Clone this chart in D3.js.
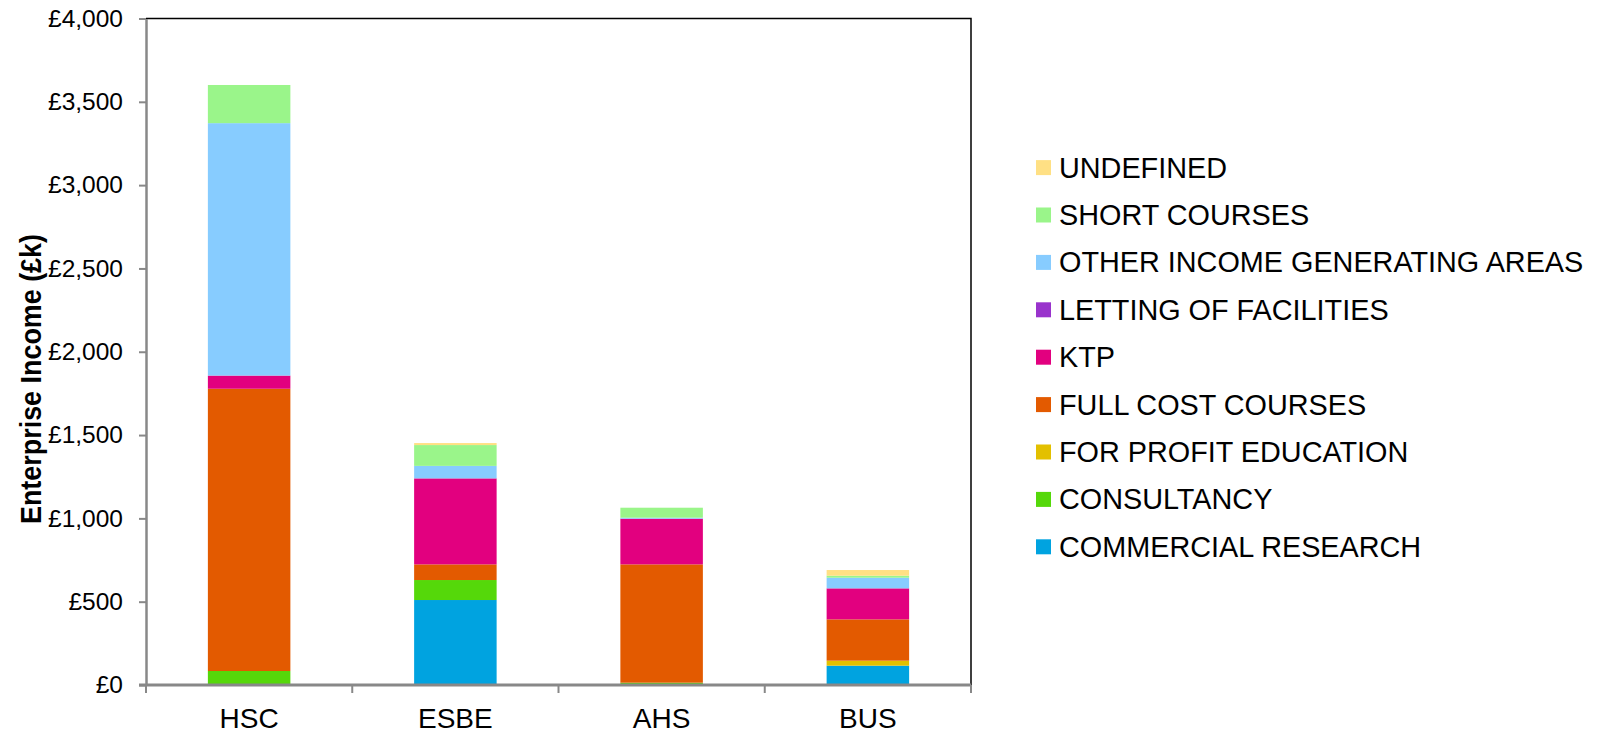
<!DOCTYPE html>
<html>
<head>
<meta charset="utf-8">
<script src="https://cdn.jsdelivr.net/npm/d3@7"></script>
<style>
  html, body { margin: 0; padding: 0; background: #fff; }
  svg { display: block; font-family: "Liberation Sans", Arial, sans-serif; }
</style>
</head>
<body>
<svg id="chart" width="1612" height="734"></svg>
<script>
// Faculties along the x axis
const faculties = ["HSC", "ESBE", "AHS", "BUS"];

// Income streams, stacked bottom to top
const streams = [
  "COMMERCIAL RESEARCH",
  "CONSULTANCY",
  "FOR PROFIT EDUCATION",
  "FULL COST COURSES",
  "KTP",
  "LETTING OF FACILITIES",
  "OTHER INCOME GENERATING AREAS",
  "SHORT COURSES",
  "UNDEFINED"
];

const streamColours = [
  "#00A3E0", "#55D80A", "#E3C000", "#E35A00", "#E2007F",
  "#9933CC", "#87CCFF", "#9AF58A", "#FFE084"
];

// Enterprise income (£k) per stream, one value per faculty (HSC, ESBE, AHS, BUS)
const commercialResearch = [0, 510, 0, 116];
const consultancy        = [84, 120, 14, 0];
const forProfitEducation = [0, 0, 0, 30];
const fullCostCourses    = [1694, 94, 710, 248];
const ktp                = [79, 516, 274, 186];
const lettingOfFacilities = [0, 0, 0, 0];
const otherIncome        = [1515, 75, 6, 64];
const shortCourses       = [229, 125, 60, 12];
const undefinedIncome    = [0, 12, 0, 34];

const yTicks = [0, 500, 1000, 1500, 2000, 2500, 3000, 3500, 4000];

const seriesValues = [
  commercialResearch, consultancy, forProfitEducation, fullCostCourses,
  ktp, lettingOfFacilities, otherIncome, shortCourses, undefinedIncome
];

// Build one row per faculty for d3.stack
const rows = faculties.map((f, i) => {
  const r = { faculty: f };
  streams.forEach((s, k) => { r[s] = seriesValues[k][i]; });
  return r;
});

const svg = d3.select("#chart");
const plot = { left: 146, right: 971, top: 18.5, bottom: 685 };

const x = d3.scaleBand()
  .domain(faculties)
  .range([plot.left, plot.right])
  .paddingInner(0.6)
  .paddingOuter(0.3);

const y = d3.scaleLinear()
  .domain([0, 4000])
  .range([plot.bottom, plot.top]);

const colour = d3.scaleOrdinal().domain(streams).range(streamColours);

const stacked = d3.stack().keys(streams)(rows);

// Plot frame (top and right edges)
svg.append("path")
  .attr("d", `M${plot.left},${plot.top}H${plot.right}V${plot.bottom}`)
  .attr("fill", "none")
  .attr("stroke", "#000")
  .attr("stroke-width", 1.5);

// Stacked bars
svg.append("g")
  .selectAll("g")
  .data(stacked)
  .join("g")
  .attr("fill", d => colour(d.key))
  .selectAll("rect")
  .data(d => d)
  .join("rect")
  .attr("x", d => x(d.data.faculty))
  .attr("width", x.bandwidth())
  .attr("y", d => y(d[1]))
  .attr("height", d => Math.max(0, y(d[0]) - y(d[1])));

// Y axis
const yAxis = svg.append("g")
  .attr("transform", `translate(${plot.left},0)`)
  .call(d3.axisLeft(y)
    .tickValues(yTicks)
    .tickSizeInner(7)
    .tickSizeOuter(0)
    .tickPadding(16)
    .tickFormat(d => "£" + d3.format(",")(d)));
yAxis.select(".domain").attr("stroke", "#888").attr("stroke-width", 2.5);
yAxis.selectAll(".tick line").attr("stroke", "#888").attr("stroke-width", 2);
yAxis.selectAll(".tick text")
  .attr("fill", "#000")
  .style("font-size", "24.5px")
  .style("font-family", "'Liberation Sans', Arial, sans-serif");

// X axis: category boundary ticks pointing down
const boundaries = d3.range(faculties.length + 1).map(i => plot.left + i * (plot.right - plot.left) / faculties.length);
const xAxis = svg.append("g");
xAxis.append("line")
  .attr("x1", plot.left - 7).attr("x2", plot.right)
  .attr("y1", plot.bottom).attr("y2", plot.bottom)
  .attr("stroke", "#888").attr("stroke-width", 2.8);
xAxis.selectAll("line.tick")
  .data(boundaries)
  .join("line")
  .attr("class", "tick")
  .attr("x1", d => d).attr("x2", d => d)
  .attr("y1", plot.bottom).attr("y2", plot.bottom + 8)
  .attr("stroke", "#888").attr("stroke-width", 2);
xAxis.selectAll("text")
  .data(faculties)
  .join("text")
  .attr("x", d => x(d) + x.bandwidth() / 2)
  .attr("y", 727.5)
  .attr("text-anchor", "middle")
  .style("font-size", "28px")
  .attr("fill", "#000")
  .text(d => d);

// Y axis title
svg.append("text")
  .attr("transform", "translate(41,379) rotate(-90)")
  .attr("text-anchor", "middle")
  .attr("textLength", 290)
  .attr("lengthAdjust", "spacingAndGlyphs")
  .style("font-size", "30px")
  .style("font-weight", "bold")
  .attr("fill", "#000")
  .text("Enterprise Income (£k)");

// Legend, top entry is the top of the stack
const legendItems = streams.slice().reverse();
const legend = svg.append("g")
  .selectAll("g")
  .data(legendItems)
  .join("g")
  .attr("transform", (d, i) => `translate(1036,${167.6 + i * 47.4})`);
legend.append("rect")
  .attr("x", 0).attr("y", -7.5)
  .attr("width", 15).attr("height", 15)
  .attr("fill", d => colour(d));
legend.append("text")
  .attr("x", 23)
  .attr("y", 10)
  .style("font-size", "28.8px")
  .attr("fill", "#000")
  .text(d => d);
</script>
</body>
</html>
